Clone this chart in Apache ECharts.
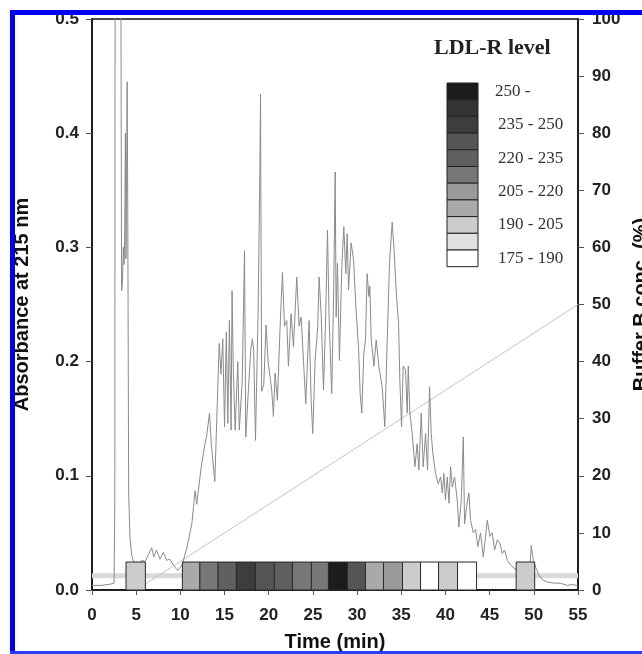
<!DOCTYPE html>
<html>
<head>
<meta charset="utf-8">
<script src="https://cdn.jsdelivr.net/npm/echarts@6/dist/echarts.min.js"></script>
<style>
  html, body { margin: 0; padding: 0; background: #fff; }
  #chart { width: 642px; height: 654px; }
</style>
</head>
<body>
<div id="chart"></div>
<script>
// absorbance trace at 215 nm: [time (min), absorbance]
var absorbance = [
  [0, 0.004], [1.0, 0.004], [2.0, 0.005], [2.5, 0.006], [2.58, 0.08], [2.62, 0.6], [3.25, 0.6],
  [3.35, 0.262], [3.45, 0.27], [3.55, 0.30], [3.63, 0.285], [3.7, 0.31], [3.78, 0.40], [3.85, 0.29],
  [3.98, 0.445], [4.05, 0.33], [4.15, 0.085], [4.3, 0.045], [4.5, 0.03], [4.7, 0.025],
  [5.25, 0.022], [5.6, 0.026], [6.0, 0.025], [6.4, 0.031], [6.75, 0.037], [7.0, 0.029], [7.3, 0.035],
  [7.7, 0.027], [8.07, 0.033], [8.45, 0.026], [8.8, 0.027], [9.2, 0.022], [9.7, 0.017], [10.0, 0.02],
  [10.2, 0.022], [10.74, 0.037], [11.3, 0.058], [11.67, 0.087], [11.85, 0.075], [12.0, 0.085],
  [12.4, 0.11], [12.78, 0.128], [12.96, 0.134], [13.3, 0.155], [13.5, 0.128], [13.9, 0.095],
  [14.07, 0.137], [14.4, 0.216], [14.6, 0.189], [14.8, 0.22], [15.0, 0.143], [15.2, 0.226],
  [15.37, 0.146], [15.55, 0.236], [15.74, 0.14], [15.85, 0.262], [16.0, 0.19], [16.2, 0.14],
  [16.5, 0.2], [16.67, 0.14], [17.0, 0.183], [17.26, 0.297], [17.4, 0.134], [17.8, 0.189],
  [17.96, 0.21], [18.15, 0.22], [18.3, 0.21], [18.5, 0.131], [18.8, 0.244], [19.0, 0.369],
  [19.07, 0.434], [19.2, 0.174], [19.44, 0.18], [19.7, 0.232], [19.93, 0.2],
  [20.34, 0.175], [20.53, 0.152], [20.72, 0.19], [20.98, 0.166], [21.29, 0.231], [21.55, 0.278],
  [21.78, 0.231], [22.04, 0.236], [22.23, 0.196], [22.53, 0.242], [22.8, 0.213], [23.17, 0.274],
  [23.44, 0.231], [23.67, 0.239], [23.93, 0.201], [24.19, 0.163], [24.57, 0.236], [24.8, 0.166],
  [24.98, 0.137], [25.25, 0.201], [25.55, 0.231], [25.7, 0.274], [25.93, 0.242], [26.2, 0.175],
  [26.45, 0.242], [26.65, 0.315], [26.84, 0.236], [27.13, 0.172], [27.36, 0.266], [27.52, 0.366],
  [27.63, 0.239], [27.78, 0.286], [28.0, 0.201], [28.27, 0.283], [28.5, 0.318], [28.72, 0.277],
  [28.88, 0.312], [29.03, 0.263], [29.33, 0.304], [29.6, 0.289], [29.86, 0.248], [30.16, 0.213],
  [30.35, 0.172], [30.53, 0.155], [30.76, 0.207], [30.95, 0.219], [31.14, 0.277], [31.33, 0.257],
  [31.44, 0.266], [31.6, 0.219], [31.9, 0.196], [32.16, 0.219], [32.46, 0.196], [32.84, 0.178],
  [33.14, 0.143], [33.41, 0.219], [33.67, 0.286], [33.97, 0.322], [34.16, 0.301], [34.46, 0.257],
  [34.69, 0.234], [34.84, 0.184], [35.03, 0.143], [35.22, 0.196], [35.48, 0.193], [35.67, 0.155],
  [35.79, 0.196], [35.97, 0.155], [36.24, 0.137], [36.54, 0.108], [36.8, 0.128], [36.99, 0.105],
  [37.26, 0.155], [37.48, 0.108], [37.75, 0.137], [37.97, 0.105], [38.2, 0.178], [38.39, 0.137],
  [38.57, 0.12], [38.88, 0.102], [39.18, 0.093], [39.45, 0.099], [39.64, 0.085], [39.82, 0.102],
  [40.0, 0.079], [40.2, 0.099], [40.4, 0.076], [40.58, 0.108], [40.77, 0.09], [41.03, 0.099],
  [41.33, 0.079], [41.52, 0.055], [41.79, 0.079], [42.02, 0.134], [42.16, 0.058], [42.39, 0.073],
  [42.65, 0.085], [42.84, 0.061], [43.15, 0.05], [43.41, 0.053], [43.67, 0.038], [43.97, 0.05],
  [44.28, 0.029], [44.54, 0.047], [44.73, 0.061], [45.03, 0.047], [45.3, 0.05], [45.56, 0.035],
  [45.87, 0.044], [46.16, 0.041], [46.43, 0.032], [46.69, 0.035], [47.0, 0.026], [47.37, 0.022],
  [47.94, 0.018], [48.5, 0.015], [49.56, 0.02], [49.71, 0.039], [49.94, 0.026], [50.2, 0.02],
  [50.58, 0.013], [50.96, 0.009], [51.5, 0.007], [52.3, 0.006], [53.0, 0.006], [53.8, 0.004],
  [54.5, 0.005], [55, 0.003]
];

// buffer B gradient (right axis, %)
var gradientTime = [5, 55];
var gradientB = [0, 50];

// baseline marker level (absorbance)
var baselineLevel = 0.0124;

// collected fractions: start / end time (min) and LDL-R level index (0 = highest)
var fracStart = [3.85, 10.23, 12.21, 14.27, 16.34, 18.49, 20.64, 22.68, 24.83, 26.76, 28.91, 30.95, 32.99, 35.14, 37.18, 39.22, 41.37, 48.0];
var fracEnd   = [6.04, 12.21, 14.27, 16.34, 18.49, 20.64, 22.68, 24.83, 26.76, 28.91, 30.95, 32.99, 35.14, 37.18, 39.22, 41.37, 43.52, 50.1];
var fracLevel = [8, 7, 5, 4, 2, 3, 4, 5, 5, 0, 3, 7, 6, 8, 10, 8, 10, 8];

// legend
var legendTitle = 'LDL-R level';
var legendLabels = ['250 -', '235 - 250', '220 - 235', '205 - 220', '190 - 205', '175 - 190'];

var shades = ['#1c1c1c', '#333333', '#3d3d3d', '#555555', '#606060', '#777777',
              '#999999', '#a9a9a9', '#cccccc', '#e1e1e1', '#ffffff'];

var FRACTION_TOP = 0.0245;
var SANS = '"Liberation Sans", Arial, sans-serif';
var SERIF = '"Liberation Serif", "Times New Roman", serif';

var fractions = fracStart.map(function (s, i) { return [s, fracEnd[i], fracLevel[i]]; });

var legendItems = [];
legendItems.push({
  type: 'text', left: 434, top: 37, z: 50,
  style: { text: legendTitle, font: 'bold 22px ' + SERIF, fill: '#222' }
});
for (var i = 0; i < shades.length; i++) {
  legendItems.push({
    type: 'rect', z: 50,
    shape: { x: 447, y: 83 + i * 16.7, width: 31, height: 16.7 },
    style: { fill: shades[i], stroke: '#222', lineWidth: 1 }
  });
}
legendLabels.forEach(function (lab, k) {
  legendItems.push({
    type: 'text', z: 50, x: k === 0 ? 495 : 498, y: 83 + k * 2 * 16.7 + 8.3,
    style: { text: lab, font: '17px ' + SERIF, fill: '#333', verticalAlign: 'middle' }
  });
});

// page frame (blue border, clipped on the right)
var frame = [
  { type: 'rect', z: 100, shape: { x: 0, y: 0, width: 642, height: 10 }, style: { fill: '#fff' } },
  { type: 'rect', z: 100, shape: { x: 0, y: 0, width: 10, height: 654 }, style: { fill: '#fff' } },
  { type: 'rect', z: 101, shape: { x: 10, y: 10, width: 632, height: 5 }, style: { fill: '#0000f0' } },
  { type: 'rect', z: 101, shape: { x: 10, y: 10, width: 5, height: 644 }, style: { fill: '#0000f0' } },
  { type: 'rect', z: 101, shape: { x: 10, y: 651, width: 632, height: 3 }, style: { fill: '#2b3cf5' } }
];

var chart = echarts.init(document.getElementById('chart'));
chart.setOption({
  animation: false,
  backgroundColor: '#fff',
  grid: { left: 92, right: 64, top: 19, bottom: 64, containLabel: false, outerBoundsMode: 'none',
    show: true, borderColor: '#111', borderWidth: 1.5, backgroundColor: 'transparent' },
  xAxis: {
    type: 'value', min: 0, max: 55, interval: 5,
    name: 'Time (min)', nameLocation: 'middle', nameGap: 42,
    nameTextStyle: { fontFamily: SANS, fontWeight: 'bold', fontSize: 20, color: '#111' },
    axisLine: { lineStyle: { color: '#111', width: 1.5 } },
    axisTick: { show: true, inside: false, length: 5, lineStyle: { color: '#555' } },
    axisLabel: { margin: 17, fontFamily: SANS, fontWeight: 'bold', fontSize: 17, color: '#222' },
    splitLine: { show: false }
  },
  yAxis: [{
    type: 'value', min: 0, max: 0.5, interval: 0.1, position: 'left',
    name: 'Absorbance at 215 nm', nameLocation: 'middle', nameGap: 60, nameRotate: 90,
    nameTextStyle: { fontFamily: SANS, fontWeight: 'bold', fontSize: 20, color: '#111' },
    axisLine: { show: true, lineStyle: { color: '#111', width: 1.5 } },
    axisTick: { show: true, length: 6, lineStyle: { color: '#555' } },
    axisLabel: { margin: 13, fontFamily: SANS, fontWeight: 'bold', fontSize: 17, color: '#222',
      formatter: function (v) { return v.toFixed(1); } },
    splitLine: { show: false }
  }, {
    type: 'value', min: 0, max: 100, interval: 10, position: 'right',
    name: 'Buffer B conc. (%)', nameLocation: 'middle', nameGap: 50, nameRotate: 90,
    nameTextStyle: { fontFamily: SANS, fontWeight: 'bold', fontSize: 20, color: '#111' },
    axisLine: { show: true, lineStyle: { color: '#111', width: 1.5 } },
    axisTick: { show: true, length: 6, lineStyle: { color: '#555' } },
    axisLabel: { margin: 14, fontFamily: SANS, fontWeight: 'bold', fontSize: 17, color: '#222' },
    splitLine: { show: false }
  }],
  series: [{
    name: 'baseline', type: 'line', z: 1, symbol: 'none', silent: true,
    data: [[0, baselineLevel], [55, baselineLevel]],
    lineStyle: { color: '#d9d9d9', width: 5 }
  }, {
    name: 'gradient', type: 'line', yAxisIndex: 1, z: 2, symbol: 'none',
    data: gradientTime.map(function (t, i) { return [t, gradientB[i]]; }),
    lineStyle: { color: '#c4c4c4', width: 1 }
  }, {
    name: 'A215', type: 'line', z: 3, symbol: 'none', clip: true,
    data: absorbance,
    lineStyle: { color: '#8a8a8a', width: 1 }
  }, {
    name: 'fractions', type: 'custom', z: 4,
    encode: { x: [0, 1] },
    data: fractions,
    renderItem: function (params, api) {
      var a = api.coord([api.value(0), 0]);
      var b = api.coord([api.value(1), FRACTION_TOP]);
      return {
        type: 'rect',
        shape: { x: a[0], y: b[1], width: b[0] - a[0], height: a[1] - b[1] },
        style: { fill: shades[api.value(2)], stroke: '#2a2a2a', lineWidth: 1 }
      };
    }
  }],
  graphic: legendItems.concat(frame)
});
</script>
</body>
</html>
